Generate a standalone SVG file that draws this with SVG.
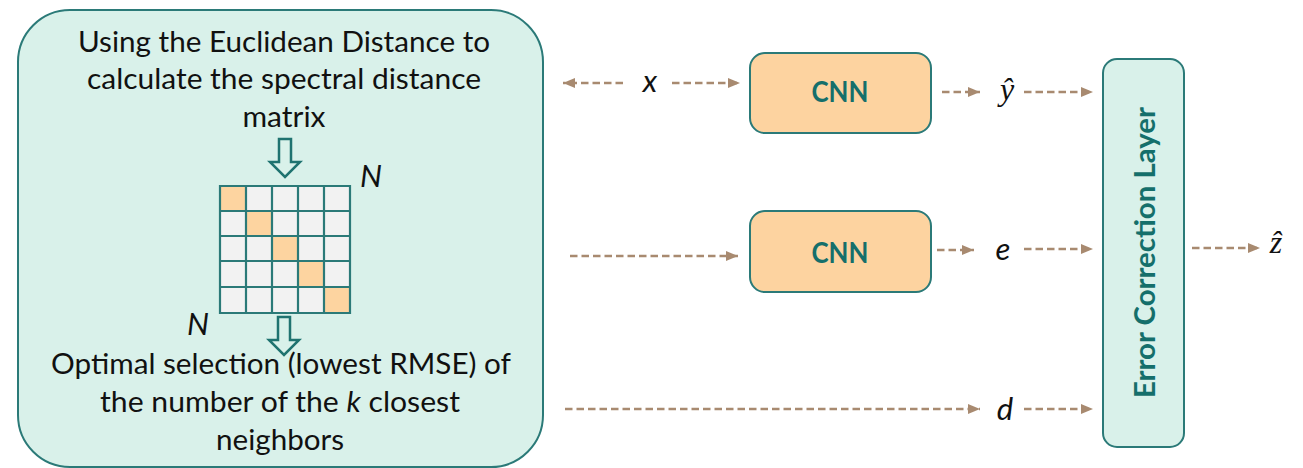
<svg xmlns="http://www.w3.org/2000/svg" width="1303" height="468" viewBox="0 0 1303 468">
  <defs>
    <style>
      .panel { fill: #d9f1ea; stroke: #2b7a78; stroke-width: 2; }
      .cnn { fill: #fdd3a0; stroke: #2b7a78; stroke-width: 2; }
      .body { font-family: Lato, "Liberation Sans", sans-serif; font-size: 29px; fill: #111; text-anchor: middle; }
      .title { font-family: Lato, "Liberation Sans", sans-serif; font-weight: bold; fill: #156f6b; text-anchor: middle; }
      .var { font-family: Lato, "Liberation Sans", sans-serif; font-style: italic; font-size: 31px; fill: #111; text-anchor: middle; }
      .hat { font-family: "Liberation Serif", "DejaVu Serif", serif; font-style: italic; font-size: 32px; fill: #111; text-anchor: middle; }
      .flow { fill: none; stroke: #a88a70; stroke-width: 2.5; stroke-dasharray: 7.5 4; }
      .hollow { fill: #d9f1ea; stroke: #1f7370; stroke-width: 2.5; stroke-linejoin: miter; }
      .cell { fill: #f2f2f2; }
      .diag { fill: #fdd4a0; }
      .grid { fill: none; stroke: #2b7a78; stroke-width: 2.2; }
    </style>
    <marker id="head" markerUnits="userSpaceOnUse" markerWidth="12" markerHeight="10" refX="12" refY="5" orient="auto">
      <path d="M0,0 L12,5 L0,10 Z" fill="#a88a70"/>
    </marker>
  </defs>

  <!-- left panel: distance matrix and neighbour selection -->
  <g id="knn-panel">
    <rect class="panel" x="18" y="10" width="525" height="457" rx="52"/>
    <text class="body" x="284" y="52" textLength="412" lengthAdjust="spacingAndGlyphs">Using the Euclidean Distance to</text>
    <text class="body" x="284" y="89" textLength="394" lengthAdjust="spacingAndGlyphs">calculate the spectral distance</text>
    <text class="body" x="284" y="127" textLength="83" lengthAdjust="spacingAndGlyphs">matrix</text>

    <path class="hollow" d="M279,139 H291 V162 H300 L285,177 L270,162 H279 Z"/>

    <g id="matrix">
      <rect class="cell" x="220" y="186" width="130" height="127"/>
      <rect class="diag" x="220" y="186" width="26" height="25"/>
      <rect class="diag" x="246" y="211" width="26" height="25"/>
      <rect class="diag" x="272" y="236" width="26" height="25"/>
      <rect class="diag" x="298" y="261" width="26" height="26"/>
      <rect class="diag" x="324" y="287" width="26" height="26"/>
      <path class="grid" d="M220,186 H350 V313 H220 Z M246,186 V313 M272,186 V313 M298,186 V313 M324,186 V313 M220,211 H350 M220,236 H350 M220,261 H350 M220,287 H350"/>
    </g>
    <text class="var" x="371" y="187" font-size="27">N</text>
    <text class="var" x="198" y="335" font-size="27">N</text>

    <path class="hollow" d="M278,317 H290 V340 H299 L284,355 L269,340 H278 Z"/>

    <text class="body" x="281" y="374" textLength="460" lengthAdjust="spacingAndGlyphs">Optimal selection (lowest RMSE) of</text>
    <text class="body" x="280" y="412" textLength="360" lengthAdjust="spacingAndGlyphs">the number of the <tspan font-style="italic">k</tspan> closest</text>
    <text class="body" x="280" y="450" textLength="128" lengthAdjust="spacingAndGlyphs">neighbors</text>
  </g>

  <g id="cnn-top">
    <rect class="cnn" x="750" y="53" width="181" height="80" rx="15"/>
    <text class="title" x="840" y="102" font-size="28" textLength="57" lengthAdjust="spacingAndGlyphs">CNN</text>
  </g>

  <g id="cnn-bottom">
    <rect class="cnn" x="750" y="211" width="181" height="81" rx="15"/>
    <text class="title" x="840" y="263" font-size="28" textLength="57" lengthAdjust="spacingAndGlyphs">CNN</text>
  </g>

  <g id="error-correction">
    <rect class="panel" x="1103" y="59" width="81" height="388" rx="14"/>
    <text class="title" font-size="29" transform="translate(1155,252.5) rotate(-90)" textLength="291" lengthAdjust="spacingAndGlyphs">Error Correction Layer</text>
  </g>

  <!-- signal labels -->
  <g id="labels">
    <text class="var" x="650" y="92">x</text>
    <text class="hat" x="1007" y="100">ŷ</text>
    <text class="var" x="1003" y="260">e</text>
    <text class="var" x="1005" y="420">d</text>
    <text class="hat" x="1276" y="253">ẑ</text>
  </g>

  <g id="connectors">
    <path class="flow" d="M623,83 H563" marker-end="url(#head)"/>
    <path class="flow" d="M672,83 H740" marker-end="url(#head)"/>
    <path class="flow" d="M942,92 H980" marker-end="url(#head)"/>
    <path class="flow" d="M1024,92 H1093" marker-end="url(#head)"/>
    <path class="flow" d="M570,256 H738" marker-end="url(#head)"/>
    <path class="flow" d="M937,250 H974" marker-end="url(#head)"/>
    <path class="flow" d="M1024,249 H1093" marker-end="url(#head)"/>
    <path class="flow" d="M565,409 H980" marker-end="url(#head)"/>
    <path class="flow" d="M1024,409 H1093" marker-end="url(#head)"/>
    <path class="flow" d="M1192,248 H1260" marker-end="url(#head)"/>
  </g>
</svg>
